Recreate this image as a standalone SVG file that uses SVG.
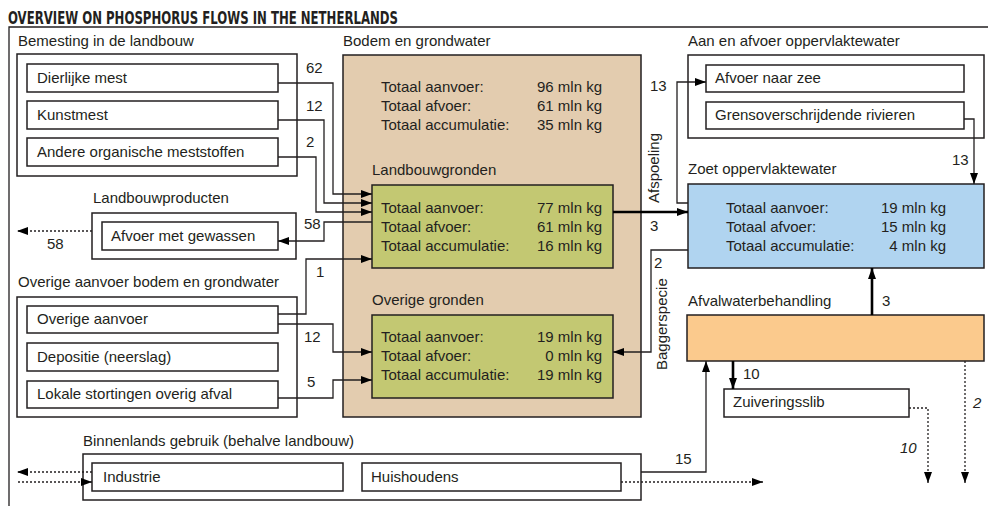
<svg xmlns="http://www.w3.org/2000/svg" width="988" height="506" viewBox="0 0 988 506">
<style>
text{font-family:"Liberation Sans",Arial,sans-serif;font-size:15px;fill:#231F20}
.title{font-family:"DejaVu Sans Condensed","DejaVu Sans",sans-serif;font-weight:bold;font-size:18px}
.box{fill:#fff;stroke:#231F20;stroke-width:1.5}
.tan{fill:#E3CCAF}
.green{fill:#C3C872}
.blue{fill:#B0D4F0}
.orange{fill:#FBCA8D}
.ln{fill:none;stroke:#231F20;stroke-width:1.3}
.thick{fill:none;stroke:#000;stroke-width:2.6}
.dot{fill:none;stroke:#231F20;stroke-width:1.3;stroke-dasharray:2 2}
.v{text-anchor:end}
.it{font-style:italic}
</style>
<defs>
<marker id="ah" markerUnits="userSpaceOnUse" markerWidth="11" markerHeight="8" refX="11" refY="4" orient="auto">
<path d="M0,0 L11,4 L0,8 z" fill="#000"/>
</marker>
</defs>
<rect width="988" height="506" fill="#fff"/>
<g id="frame">
<text class="title" x="8" y="24" textLength="390" lengthAdjust="spacingAndGlyphs">OVERVIEW ON PHOSPHORUS FLOWS IN THE NETHERLANDS</text>
<path d="M9,506 V27 H988" class="ln"/>
</g>
<g id="bemesting">
<text x="18" y="46">Bemesting in de landbouw</text>
<rect class="box" x="17" y="54" width="280" height="122"/>
</g>
<g id="dierlijke-mest"><rect class="box" x="27" y="64" width="251" height="28"/><text x="37" y="83">Dierlijke mest</text></g>
<g id="kunstmest"><rect class="box" x="27" y="101" width="251" height="28"/><text x="37" y="120">Kunstmest</text></g>
<g id="andere"><rect class="box" x="27" y="138" width="251" height="28"/><text x="37" y="157">Andere organische meststoffen</text></g>
<g id="landbouwproducten">
<text x="93" y="203">Landbouwproducten</text>
<rect class="box" x="92" y="213" width="204" height="46"/>
</g>
<g id="afvoer-gewassen"><rect class="box" x="102" y="222" width="176" height="28"/><text x="111" y="241">Afvoer met gewassen</text></g>
<g id="overige-aanvoer-groep">
<text x="18" y="287">Overige aanvoer bodem en grondwater</text>
<rect class="box" x="17" y="297" width="280" height="120"/>
</g>
<g id="overige-aanvoer"><rect class="box" x="27" y="306" width="251" height="27"/><text x="37" y="324">Overige aanvoer</text></g>
<g id="depositie"><rect class="box" x="27" y="343" width="251" height="28"/><text x="37" y="362">Depositie (neerslag)</text></g>
<g id="lokale"><rect class="box" x="27" y="381" width="251" height="27"/><text x="37" y="399">Lokale stortingen overig afval</text></g>
<g id="binnenlands">
<text x="83" y="446">Binnenlands gebruik (behalve landbouw)</text>
<rect class="box" x="83" y="454" width="558" height="46"/>
</g>
<g id="industrie"><rect class="box" x="92" y="463" width="251" height="28"/><text x="103" y="482">Industrie</text></g>
<g id="huishoudens"><rect class="box" x="362" y="463" width="259" height="28"/><text x="371" y="482">Huishoudens</text></g>
<g id="bodem">
<text x="343" y="46">Bodem en grondwater</text>
<rect class="box tan" x="343" y="55" width="298" height="362"/>
<text x="381" y="92">Totaal aanvoer:</text><text class="v" x="602" y="92">96 mln kg</text>
<text x="381" y="111">Totaal afvoer:</text><text class="v" x="602" y="111">61 mln kg</text>
<text x="381" y="130">Totaal accumulatie:</text><text class="v" x="602" y="130">35 mln kg</text>
</g>
<g id="landbouwgronden">
<text x="372" y="175">Landbouwgronden</text>
<rect class="box green" x="372" y="185" width="241" height="83"/>
<text x="381" y="213">Totaal aanvoer:</text><text class="v" x="602" y="213">77 mln kg</text>
<text x="381" y="232">Totaal afvoer:</text><text class="v" x="602" y="232">61 mln kg</text>
<text x="381" y="251">Totaal accumulatie:</text><text class="v" x="602" y="251">16 mln kg</text>
</g>
<g id="overige-gronden">
<text x="372" y="305">Overige gronden</text>
<rect class="box green" x="372" y="315" width="241" height="83"/>
<text x="381" y="342">Totaal aanvoer:</text><text class="v" x="602" y="342">19 mln kg</text>
<text x="381" y="361">Totaal afvoer:</text><text class="v" x="602" y="361">0 mln kg</text>
<text x="381" y="380">Totaal accumulatie:</text><text class="v" x="602" y="380">19 mln kg</text>
</g>
<g id="aan-afvoer">
<text x="688" y="46">Aan en afvoer oppervlaktewater</text>
<rect class="box" x="688" y="55" width="296" height="83"/>
</g>
<g id="afvoer-zee"><rect class="box" x="706" y="65" width="258" height="27"/><text x="715" y="83">Afvoer naar zee</text></g>
<g id="grens"><rect class="box" x="706" y="102" width="258" height="27"/><text x="715" y="120">Grensoverschrijdende rivieren</text></g>
<g id="zoet">
<text x="688" y="174">Zoet oppervlaktewater</text>
<rect class="box blue" x="688" y="184" width="296" height="84"/>
<text x="726" y="213">Totaal aanvoer:</text><text class="v" x="946" y="213">19 mln kg</text>
<text x="726" y="232">Totaal afvoer:</text><text class="v" x="946" y="232">15 mln kg</text>
<text x="726" y="251">Totaal accumulatie:</text><text class="v" x="946" y="251">4 mln kg</text>
</g>
<g id="afvalwater">
<text x="688" y="306">Afvalwaterbehandling</text>
<rect class="box orange" x="687" y="315" width="297" height="46"/>
</g>
<g id="zuiveringsslib"><rect class="box" x="724" y="389" width="185" height="28"/><text x="733" y="407">Zuiveringsslib</text></g>
<g id="connectors">
<path class="ln" d="M278,83 H333 V194 H372" marker-end="url(#ah)"/>
<path class="ln" d="M278,120 H324 V203 H372" marker-end="url(#ah)"/>
<path class="ln" d="M278,157 H316 V212 H372" marker-end="url(#ah)"/>
<path class="ln" d="M372,222 H324 V241 H278" marker-end="url(#ah)"/>
<path class="dot" d="M92,231 H17" marker-end="url(#ah)"/>
<path class="ln" d="M278,314 H306 V259 H372" marker-end="url(#ah)"/>
<path class="ln" d="M278,324 H333 V352 H372" marker-end="url(#ah)"/>
<path class="ln" d="M278,398 H333 V380 H372" marker-end="url(#ah)"/>
<path class="thick" d="M613,212 H688" marker-end="url(#ah)"/>
<path class="ln" d="M688,203 H677 V82 H706" marker-end="url(#ah)"/>
<path class="ln" d="M964,119 H974 V184" marker-end="url(#ah)"/>
<path class="ln" d="M688,250 H651 V352 H613" marker-end="url(#ah)"/>
<path class="thick" d="M872,315 V268" marker-end="url(#ah)"/>
<path class="thick" d="M733,361 V389" marker-end="url(#ah)"/>
<path class="dot" d="M909,408 H928 V483" marker-end="url(#ah)"/>
<path class="dot" d="M965,361 V483" marker-end="url(#ah)"/>
<path class="ln" d="M641,472 H706 V361" marker-end="url(#ah)"/>
<path class="dot" d="M621,482 H763" marker-end="url(#ah)"/>
<path class="dot" d="M92,472 H17" marker-end="url(#ah)"/>
<path class="dot" d="M18,482 H92" marker-end="url(#ah)"/>
<text x="306" y="73">62</text>
<text x="306" y="111">12</text>
<text x="306" y="147">2</text>
<text x="304" y="229">58</text>
<text x="47" y="249">58</text>
<text x="316" y="277">1</text>
<text x="304" y="342">12</text>
<text x="307" y="387">5</text>
<text x="650" y="91">13</text>
<text x="650" y="231">3</text>
<text x="654" y="268">2</text>
<text x="952" y="165">13</text>
<text x="882" y="306">3</text>
<text x="743" y="379">10</text>
<text class="it" x="900" y="453">10</text>
<text class="it" x="973" y="408">2</text>
<text x="675" y="464">15</text>
<text transform="translate(659,203) rotate(-90)">Afspoeling</text>
<text transform="translate(667,370) rotate(-90)">Baggerspecie</text>
</g>
</svg>
